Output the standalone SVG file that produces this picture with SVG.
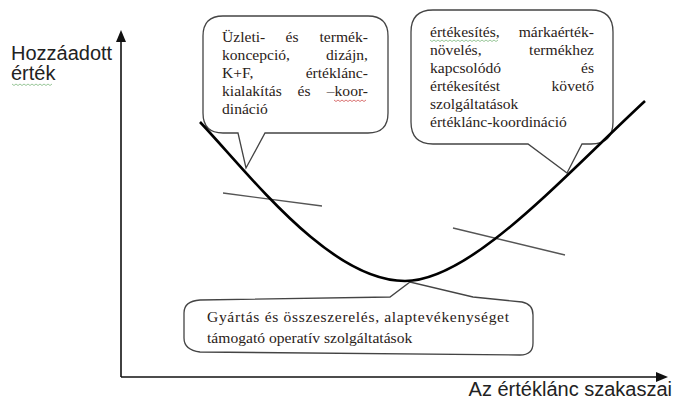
<svg xmlns="http://www.w3.org/2000/svg" width="674" height="401" viewBox="0 0 674 401">
<defs>
<style>
.ax{stroke:#111;stroke-width:1.6;fill:none}
.lbl{font-family:"Liberation Sans",Arial,sans-serif;font-size:20px;fill:#222}
.ct{font-family:"Liberation Serif","Times New Roman",serif;font-size:15.6px;fill:#2a2218}
.box{fill:#fff;stroke:#444;stroke-width:1.3;stroke-linejoin:miter}
.tan{stroke:#555;stroke-width:1.3;fill:none}
.curve{stroke:#000;stroke-width:2.6;fill:none}
.wg{stroke:#7fb87f;stroke-width:0.8;fill:none}
.wr{stroke:#d05050;stroke-width:0.8;fill:none}
</style>
</defs>
<rect width="674" height="401" fill="#fff"/>
<g id="axes">
<line class="ax" x1="121" y1="377" x2="121" y2="40"/>
<polygon points="121,30 116,42 126,42" fill="#111"/>
<line class="ax" x1="121" y1="377" x2="658" y2="377"/>
<polygon points="668,377 656,372 656,382" fill="#111"/>
<text class="lbl" x="11" y="60">Hozzáadott</text>
<text class="lbl" x="11" y="80">érték</text>
<path class="wg" d="M12,84 l2,1.5 l2,-1.5 l2,1.5 l2,-1.5 l2,1.5 l2,-1.5 l2,1.5 l2,-1.5 l2,1.5 l2,-1.5 l2,1.5 l2,-1.5 l2,1.5 l2,-1.5 l2,1.5 l2,-1.5 l2,1.5 l2,-1.5 l2,1.5 l2,-1.5"/>
<text class="lbl" x="672" y="396" text-anchor="end">Az értéklánc  szakaszai</text>
</g>
<g id="tangents">
<line class="tan" x1="223" y1="193" x2="322" y2="206"/>
<line class="tan" x1="453" y1="228" x2="565" y2="255"/>
</g>
<g id="callout-left">
<path class="box" d="M223,16 H368 Q388,16 388,36 V113 Q388,133 368,133 H265 L246,168 L238,133 H223 Q203,133 203,113 V36 Q203,16 223,16 Z"/>
<text class="ct" x="222" y="42">Üzleti-</text>
<text class="ct" x="292" y="42" text-anchor="middle">és</text>
<text class="ct" x="368" y="42" text-anchor="end">termék-</text>
<text class="ct" x="222" y="60">koncepció,</text>
<text class="ct" x="368" y="60" text-anchor="end">dizájn,</text>
<text class="ct" x="222" y="78">K+F,</text>
<text class="ct" x="368" y="78" text-anchor="end">értéklánc-</text>
<text class="ct" x="222" y="96">kialakítás</text>
<text class="ct" x="304" y="96" text-anchor="middle">és</text>
<text class="ct" x="368" y="96" text-anchor="end">–koor-</text>
<path class="wr" d="M334,100 l2,1.5 l2,-1.5 l2,1.5 l2,-1.5 l2,1.5 l2,-1.5 l2,1.5 l2,-1.5 l2,1.5 l2,-1.5 l2,1.5 l2,-1.5 l2,1.5 l2,-1.5 l2,1.5 l2,-1.5"/>
<text class="ct" x="222" y="114">dináció</text>
</g>
<g id="callout-right">
<path class="box" d="M433,10 H591 Q613,10 613,32 V122 Q613,144 591,144 H582 L567,173 L528,144 H433 Q411,144 411,122 V32 Q411,10 433,10 Z"/>
<text class="ct" x="430" y="37">értékesítés,</text>
<text class="ct" x="594" y="37" text-anchor="end">márkaérték-</text>
<path class="wg" d="M430,40 l2,1.5 l2,-1.5 l2,1.5 l2,-1.5 l2,1.5 l2,-1.5 l2,1.5 l2,-1.5 l2,1.5 l2,-1.5 l2,1.5 l2,-1.5 l2,1.5 l2,-1.5 l2,1.5 l2,-1.5 l2,1.5 l2,-1.5 l2,1.5 l2,-1.5 l2,1.5 l2,-1.5 l2,1.5 l2,-1.5 l2,1.5 l2,-1.5 l2,1.5 l2,-1.5 l2,1.5 l2,-1.5 l2,1.5 l2,-1.5 l2,1.5 l2,-1.5"/>
<text class="ct" x="430" y="55">növelés,</text>
<text class="ct" x="594" y="55" text-anchor="end">termékhez</text>
<text class="ct" x="430" y="73">kapcsolódó</text>
<text class="ct" x="594" y="73" text-anchor="end">és</text>
<text class="ct" x="430" y="91">értékesítést</text>
<text class="ct" x="594" y="91" text-anchor="end">követő</text>
<text class="ct" x="430" y="109">szolgáltatások</text>
<text class="ct" x="430" y="127">értéklánc-koordináció</text>
</g>
<g id="callout-bottom">
<path class="box" d="M200,300 L390,297 L410,282 L473,297 L522,302 Q533,304 533,315 L533,343 Q533,355 520,355 L200,352 Q184,350 184,338 L184,313 Q184,301 200,300 Z"/>
<text class="ct" x="207" y="322" textLength="302" lengthAdjust="spacing">Gyártás és összeszerelés, alaptevékenységet</text>
<text class="ct" x="207" y="343">támogató operatív szolgáltatások</text>
</g>
<g id="connectors">
<path class="curve" d="M200,122 C250,175 330,281 405,281 C470,281 560,180 645,101"/>
</g>
</svg>
